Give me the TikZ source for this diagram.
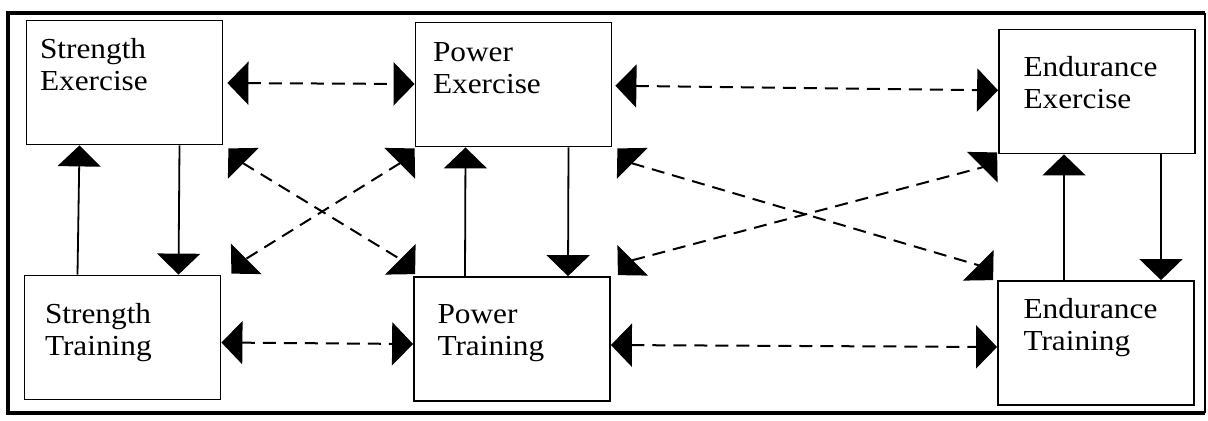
\documentclass[tikz,border=0pt]{standalone}
\usepackage{fontspec}
\setmainfont{Liberation Serif}[FakeStretch=1.08]
\usetikzlibrary{arrows.meta,calc}

\tikzset{bigtip/.tip={Triangle[length=10.5pt,width=21.5pt]}}

\begin{document}
\begin{tikzpicture}[x=0.5pt, y=-0.5pt,
	box/.style={draw, line width=0.9pt, fill=white, minimum width=98pt, minimum height=62pt, inner sep=0pt},
	lbl/.style={anchor=north west, inner sep=0pt, align=left, font=\fontsize{14.5}{16}\selectfont},
	link/.style={line width=1pt, dash pattern=on 6.5pt off 4pt, bigtip-bigtip},
	feed/.style={line width=0.9pt, -bigtip}]
	\useasboundingbox (0,0) rectangle (1208,420);

	% frame
	\draw[line width=2.2pt] (1205,13) -- (8,13) -- (8,413) -- (1205,413);
	\draw[line width=0.8pt] (1205,13) -- (1205,413);

	\node[box] (se) at (124.5,82.5) {};
	\node[box] (st) at (122.5,337.5) {};
	\node[box] (pe) at (513.5,84.5) {};
	\node[box] (pt) at (512,339) {};
	\node[box] (ee) at (1097,91.5) {};
	\node[box] (et) at (1096,343) {};

	\node[lbl] (se-t) at ([shift={(14,18)}]se.north west) {Strength\\Exercise};
	\node[lbl] (st-t) at ([shift={(21,28)}]st.north west) {Strength\\Training};
	\node[lbl] (pe-t) at ([shift={(18,21)}]pe.north west) {Power\\Exercise};
	\node[lbl] (pt-t) at ([shift={(24,28)}]pt.north west) {Power\\Training};
	\node[lbl] (ee-t) at ([shift={(25,27)}]ee.north west) {Endurance\\Exercise};
	\node[lbl] (et-t) at ([shift={(26,18)}]et.north west) {Endurance\\Training};

	% exercise <-> training
	\draw[feed] ([xshift=27.5pt]se.south) -- ([xshift=28pt]st.north);
	\draw[feed] ([xshift=-22.5pt]st.north) -- ([xshift=-22.5pt]se.south);
	\draw[feed] ([xshift=27.5pt]pe.south) -- ([xshift=28pt]pt.north);
	\draw[feed] ([xshift=-23.5pt]pt.north) -- ([xshift=-24pt]pe.south);
	\draw[feed] ([xshift=32pt]ee.south) -- ([xshift=32.5pt]et.north);
	\draw[feed] ([xshift=-16pt]et.north) -- ([xshift=-16.5pt]ee.south);

	% same row
	\draw[link, shorten <=2pt] (se) -- (pe);
	\draw[link, shorten <=1.5pt] (pe) -- (ee);
	\draw[link] ([yshift=-2.5pt]st.east) -- ([yshift=-2.5pt]pt.west);
	\draw[link] ([yshift=-3pt]pt.east) -- ([yshift=-2pt]et.west);

	% crossing links
	\coordinate (a1) at ([shift={(5,3)}]se.south east);
	\coordinate (a2) at ([shift={(2,-2)}]pt.north west);
	\coordinate (b1) at ([shift={(0,1)}]pe.south west);
	\coordinate (b2) at ([shift={(10,-1)}]st.north east);
	\coordinate (c1) at ([shift={(5,1)}]pe.south east);
	\coordinate (c2) at ([shift={(-4,0)}]et.north west);
	\coordinate (d1) at ([shift={(7,-1)}]pt.north east);
	\coordinate (d2) at ([shift={(-1,-2)}]ee.south west);

	\draw[link] (a1) -- ++(15,15) -- ($(a2)+(-15,-15)$) -- (a2);
	\draw[link] (b1) -- ++(-15,15) -- ($(b2)+(15,-15)$) -- (b2);
	\draw[link] (c1) -- ++(15,15) -- ($(c2)+(-15,-15)$) -- (c2);
	\draw[link] (d1) -- ++(15,-15) -- ($(d2)+(-15,15)$) -- (d2);
\end{tikzpicture}
\end{document}
